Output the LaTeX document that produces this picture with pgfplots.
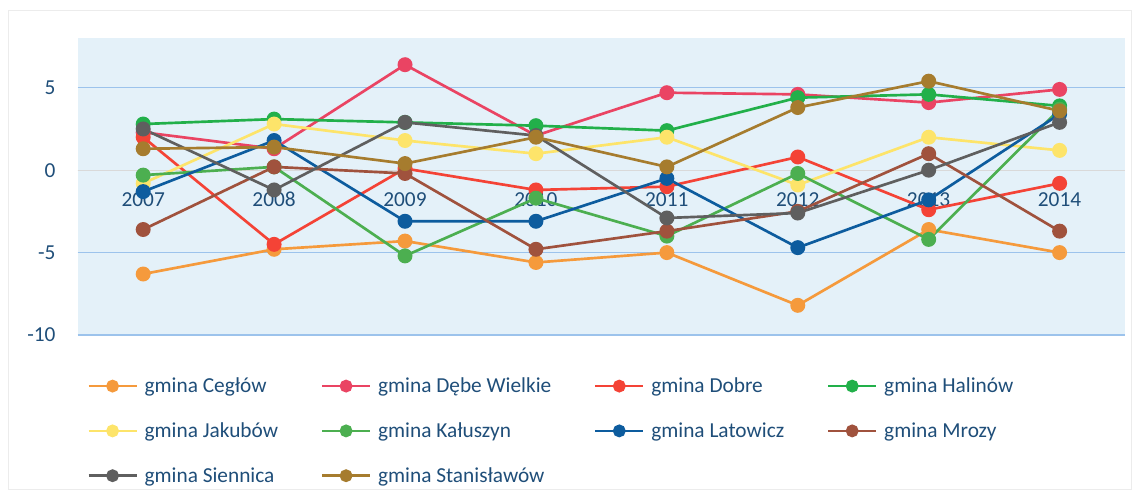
\documentclass[border=0pt]{standalone}
\usepackage{fontspec}
\setmainfont{Carlito}
\usepackage{pgfplots}
\pgfplotsset{compat=1.18}
\usepackage{pgfplotstable}

\definecolor{ceg}{HTML}{F59A3C}
\definecolor{debe}{HTML}{EA4463}
\definecolor{dob}{HTML}{F44336}
\definecolor{hal}{HTML}{22B04A}
\definecolor{jak}{HTML}{FDE46A}
\definecolor{kal}{HTML}{4CAF50}
\definecolor{lat}{HTML}{0D5C9E}
\definecolor{mro}{HTML}{A0523D}
\definecolor{sie}{HTML}{5F5F5F}
\definecolor{sta}{HTML}{A67C2E}
\definecolor{txt}{HTML}{1F4E79}
\definecolor{bg}{HTML}{E4F1F9}
\definecolor{gridc}{HTML}{9CC3EC}

% year, then one column per gmina
\pgfplotstableread{
year ceg  debe dob  hal jak  kal  lat  mro  sie  sta
2007 -6.3 2.3  2.0  2.8 -0.8 -0.3 -1.3 -3.6 2.5  1.3
2008 -4.8 1.3  -4.5 3.1 2.8  0.2  1.8  0.2  -1.2 1.4
2009 -4.3 6.4  0.1  2.9 1.8  -5.2 -3.1 -0.2 2.9  0.4
2010 -5.6 2.1  -1.2 2.7 1.0  -1.7 -3.1 -4.8 2.1  2.0
2011 -5.0 4.7  -1.0 2.4 2.0  -4.0 -0.5 -3.7 -2.9 0.2
2012 -8.2 4.6  0.8  4.4 -0.9 -0.2 -4.7 -2.5 -2.6 3.8
2013 -3.6 4.1  -2.4 4.6 2.0  -4.2 -1.8 1.0  0.0  5.4
2014 -5.0 4.9  -0.8 3.9 1.2  3.7  3.4  -3.7 2.9  3.6
}\data

\begin{document}
\begin{tikzpicture}
\begin{axis}[
    set layers,
    scale only axis,
    width=785.5pt, height=222.5pt,
    xmin=2006.5, xmax=2014.5,
    ymin=-10, ymax=8,
    xtick={2007,...,2014},
    ytick={-10,-5,0,5},
    axis x line*=middle,
    axis y line*=left,
    x axis line style={draw=gray!30, line width=0.8pt, -},
    y axis line style={draw=none},
    major tick style={draw=none},
    ymajorgrids,
    grid style={gridc, line width=0.8pt},
    axis background/.style={fill=bg},
    x tick label style={/pgf/number format/1000 sep={}},
    /pgf/number format/assume math mode=true,
    tick label style={font=\fontsize{16}{19}\selectfont, text=txt},
    xticklabel style={anchor=center, yshift=-22pt},
    yticklabel style={anchor=east, inner sep=0pt, xshift=-16.5pt},
    every axis plot/.append style={line width=2pt, mark=*, mark size=4.6pt},
    legend columns=4,
    legend cell align=left,
    legend style={at={(0.005,-0.125)}, anchor=north west, draw=none, fill=none,
        font=\fontsize{16}{19}\selectfont, text=txt, row sep=17pt,
        /tikz/every odd column/.append style={column sep=3pt},
        /tikz/every even column/.append style={column sep=30pt}},
    legend image code/.code={\draw[mark repeat=2, mark phase=2, #1, mark size=3.8pt]
        plot coordinates {(0pt,0pt) (18pt,0pt) (36pt,0pt)};},
]
\addplot[ceg, mark options={fill=ceg}] table[x=year, y=ceg] {\data};
\addlegendentry{gmina Cegłów}
\addplot[debe, mark options={fill=debe}] table[x=year, y=debe] {\data};
\addlegendentry{gmina Dębe Wielkie}
\addplot[dob, mark options={fill=dob}] table[x=year, y=dob] {\data};
\addlegendentry{gmina Dobre}
\addplot[hal, mark options={fill=hal}] table[x=year, y=hal] {\data};
\addlegendentry{gmina Halinów}
\addplot[jak, mark options={fill=jak}] table[x=year, y=jak] {\data};
\addlegendentry{gmina Jakubów}
\addplot[kal, mark options={fill=kal}] table[x=year, y=kal] {\data};
\addlegendentry{gmina Kałuszyn}
\addplot[lat, mark options={fill=lat}] table[x=year, y=lat] {\data};
\addlegendentry{gmina Latowicz}
\addplot[mro, mark options={fill=mro}] table[x=year, y=mro] {\data};
\addlegendentry{gmina Mrozy}
\addplot[sie, mark options={fill=sie}] table[x=year, y=sie] {\data};
\addlegendentry{gmina Siennica}
\addplot[sta, mark options={fill=sta}] table[x=year, y=sta] {\data};
\addlegendentry{gmina Stanisławów}
\end{axis}
\pgfresetboundingbox
\path (-58.3pt,-122.25pt) rectangle (795.2pt,251.25pt);
\draw[gray!15] (-52.3pt,-115.5pt) rectangle (790pt,243.75pt);
\end{tikzpicture}
\end{document}
